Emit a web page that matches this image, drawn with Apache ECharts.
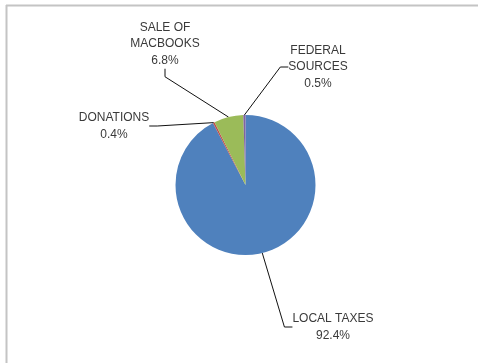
<!DOCTYPE html>
<html>
<head>
<meta charset="utf-8">
<script src="https://cdn.jsdelivr.net/npm/echarts@6/dist/echarts.min.js"></script>
<style>html,body{margin:0;padding:0;background:#fff;}#c{width:478px;height:363px;}</style>
</head>
<body>
<div id="c"></div>
<script>
const categories = ['LOCAL TAXES', 'DONATIONS', 'SALE OF\nMACBOOKS', 'FEDERAL\nSOURCES'];
const values = [92.4, 0.4, 6.8, 0.5];
const colors = ['#4F81BD', '#C0504D', '#9BBB59', '#8064A2'];
const labelPos = [[333, 327], [114, 126], [165, 44], [318, 67]];

const chart = echarts.init(document.getElementById('c'), null, {renderer: 'canvas'});
chart.setOption({
  animation: false,
  backgroundColor: '#ffffff',
  graphic: [
    {type: 'line', shape: {x1: 6, y1: 5.5, x2: 478, y2: 5.5}, style: {stroke: '#c4c4c4', lineWidth: 2}},
    {type: 'line', shape: {x1: 6.5, y1: 5, x2: 6.5, y2: 363}, style: {stroke: '#c4c4c4', lineWidth: 2}}
  ],
  series: [{
    type: 'pie',
    center: [245.5, 185],
    radius: 70,
    startAngle: 90,
    clockwise: true,
    avoidLabelOverlap: false,
    itemStyle: {borderWidth: 0},
    label: {
      show: true,
      formatter: p => p.name + '\n' + p.value.toFixed(1) + '%',
      fontFamily: '"Liberation Sans", Arial, sans-serif',
      fontSize: 12,
      lineHeight: 16.5,
      color: '#3a3a3a',
      align: 'center'
    },
    labelLine: {show: true, length: 10, length2: 8, lineStyle: {color: '#111', width: 1}},
    labelLayout: function (params) {
      const p = labelPos[params.dataIndex];
      return {x: p[0], y: p[1], align: 'center', verticalAlign: 'middle'};
    },
    emphasis: {disabled: true},
    data: categories.map((c, i) => ({name: c, value: values[i], itemStyle: {color: colors[i]}}))
  }]
});
</script>
</body>
</html>
